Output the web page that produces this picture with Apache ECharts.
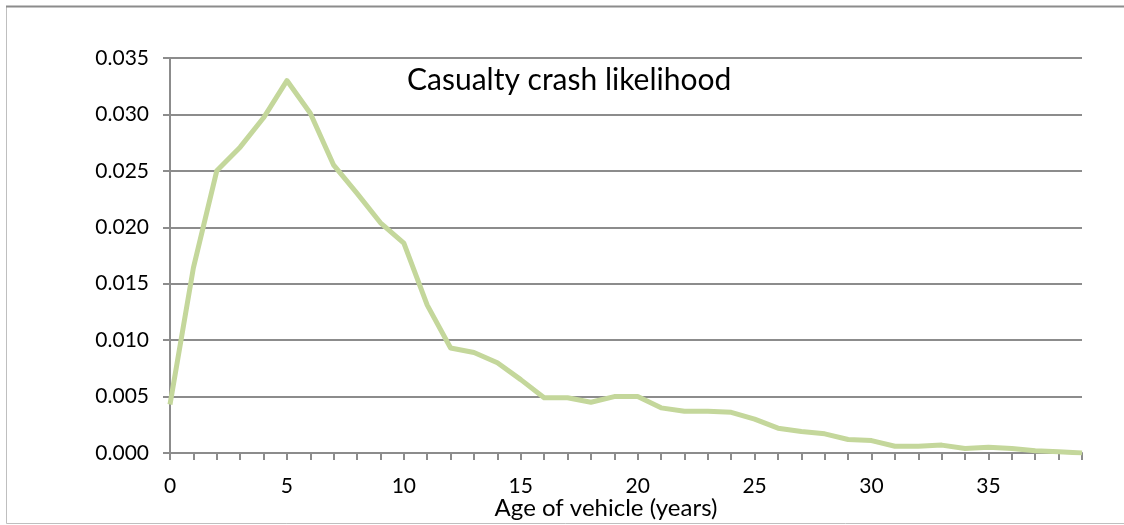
<!DOCTYPE html>
<html>
<head>
<meta charset="utf-8" />
<title>Casualty crash likelihood</title>
<script src="https://cdn.jsdelivr.net/npm/echarts@6/dist/echarts.min.js"></script>
<style>
  html, body { margin: 0; padding: 0; background: #fff; }
  #chart { width: 1124px; height: 525px; }
</style>
</head>
<body>
<div id="chart"></div>
<script>
// vehicle age (years)
const ages = [0, 1, 2, 3, 4, 5, 6, 7, 8, 9, 10, 11, 12, 13, 14, 15, 16, 17, 18, 19,
              20, 21, 22, 23, 24, 25, 26, 27, 28, 29, 30, 31, 32, 33, 34, 35, 36, 37, 38, 39];
// casualty crash likelihood per age
const likelihood = [0.0043, 0.0164, 0.0250, 0.0271, 0.0297, 0.0330, 0.0301, 0.0255, 0.0230, 0.0204,
                    0.0186, 0.0131, 0.0093, 0.0089, 0.0080, 0.0065, 0.0049, 0.0049, 0.0045, 0.0050,
                    0.0050, 0.0040, 0.0037, 0.0037, 0.0036, 0.0030, 0.0022, 0.0019, 0.0017, 0.0012,
                    0.0011, 0.0006, 0.0006, 0.0007, 0.0004, 0.0005, 0.0004, 0.0002, 0.0001, 0.0000];

const chart = echarts.init(document.getElementById('chart'));
const font = 'Lato, "Open Sans", sans-serif';

chart.setOption({
  animation: false,
  textStyle: { fontFamily: font },
  title: {
    text: 'Casualty crash likelihood',
    left: 402, top: 60,
    textStyle: { fontFamily: font, fontSize: 30, fontWeight: 'normal', color: '#000' }
  },
  graphic: [{
    type: 'rect', silent: true, z: -1,
    shape: { x: 6.5, y: 6.5, width: 1130, height: 517 },
    style: { fill: 'none', stroke: '#bfbfbf', lineWidth: 1 }
  }, {
    type: 'line', silent: true, z: -1,
    shape: { x1: 6, y1: 6.5, x2: 1124, y2: 6.5 },
    style: { stroke: '#8c8c8c', lineWidth: 2 }
  }],
  grid: { left: 170, right: 42, top: 58, bottom: 72, outerBoundsMode: 'none' },
  xAxis: {
    type: 'value', min: 0, max: 39, interval: 1,
    name: 'Age of vehicle (years)',
    nameLocation: 'middle', nameGap: 43, nameMoveOverlap: false,
    nameTextStyle: { fontFamily: font, fontSize: 24, color: '#000', padding: [0, 40, 0, 0] },
    axisLine: { lineStyle: { color: '#8c8c8c', width: 2 } },
    axisTick: { show: true, length: 7, lineStyle: { color: '#8c8c8c', width: 2 } },
    axisLabel: {
      fontFamily: font, fontSize: 21, color: '#000', margin: 23,
      formatter: v => (v % 5 === 0 ? String(v) : '')
    },
    splitLine: { show: false }
  },
  yAxis: {
    type: 'value', min: 0, max: 0.035, interval: 0.005,
    axisLine: { show: true, lineStyle: { color: '#8c8c8c', width: 2 } },
    axisTick: { show: true, length: 7, lineStyle: { color: '#8c8c8c', width: 2 } },
    axisLabel: {
      fontFamily: font, fontSize: 21, color: '#000', margin: 21,
      formatter: v => v.toFixed(3)
    },
    splitLine: { lineStyle: { color: '#8c8c8c', width: 2 } }
  },
  series: [{
    type: 'line',
    data: ages.map((a, i) => [a, likelihood[i]]),
    showSymbol: false,
    lineStyle: { color: '#c4d79b', width: 5, join: 'round' },
    z: 3
  }]
});
</script>
</body>
</html>
